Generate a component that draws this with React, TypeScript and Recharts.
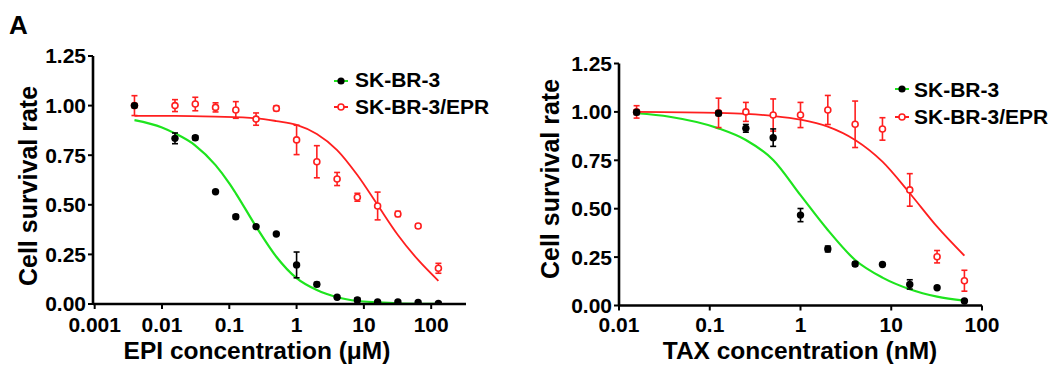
import React from 'react';
import { ComposedChart, Line, Scatter, XAxis, YAxis, ErrorBar, Legend } from 'recharts';

const FONT = 'Arial, "Liberation Sans", Helvetica, sans-serif';
const GREEN = '#1ee41e';
const RED = '#ff1f1f';

// ---- axis ticks ----
const yTicks = [0, 0.25, 0.5, 0.75, 1, 1.25];
const yTickLabels = ['0.00', '0.25', '0.50', '0.75', '1.00', '1.25'];
const epiTicks = [0.001, 0.01, 0.1, 1, 10, 100];
const epiTickLabels = ['0.001', '0.01', '0.1', '1', '10', '100'];
const taxTicks = [0.01, 0.1, 1, 10, 100];
const taxTickLabels = ['0.01', '0.1', '1', '10', '100'];

const seriesNames = ['SK-BR-3', 'SK-BR-3/EPR'];

// ---- EPI (µM) measured points ----
const epiDoses = [0.0039, 0.0156, 0.03125, 0.0625, 0.125, 0.25, 0.5, 1, 2, 4, 8, 16, 32, 64, 128];
const epiParentMean = [1.0, 0.835, 0.838, 0.566, 0.44, 0.39, 0.353, 0.197, 0.099, 0.034, 0.02, 0.01, 0.01, 0.008, 0.003];
const epiParentErr = [0.01, 0.027, 0.01, 0.0, 0.01, 0.0, 0.0, 0.065, 0.01, 0.0, 0.01, 0.0, 0.0, 0.0, 0.0];
const epiResistMean = [1.0, 1.0, 1.008, 0.991, 0.978, 0.932, 0.986, 0.827, 0.717, 0.63, 0.538, 0.494, 0.454, 0.393, 0.18];
const epiResistErr = [0.05, 0.03, 0.034, 0.023, 0.042, 0.031, 0.012, 0.074, 0.081, 0.033, 0.02, 0.07, 0.013, 0.01, 0.025];

// ---- EPI fitted curves ----
const epiParentCurveX = [0.0039, 0.01, 0.0156, 0.031, 0.0625, 0.1, 0.125, 0.25, 0.5, 1, 2, 4, 8, 16, 32, 64, 128];
const epiParentCurveY = [0.927, 0.89, 0.86, 0.8, 0.7, 0.608, 0.558, 0.39, 0.238, 0.13, 0.07, 0.034, 0.015, 0.008, 0.003, 0.001, 0.0005];
const epiResistCurveX = [0.0039, 0.0156, 0.0625, 0.25, 0.5, 1, 2, 4, 8, 16, 32, 64, 128];
const epiResistCurveY = [0.948, 0.948, 0.944, 0.936, 0.922, 0.903, 0.857, 0.776, 0.65, 0.499, 0.348, 0.222, 0.117];

// ---- TAX (nM) measured points ----
const taxDoses = [0.015625, 0.125, 0.25, 0.5, 1, 2, 4, 8, 16, 32, 64];
const taxParentMean = [0.998, 0.993, 0.915, 0.867, 0.467, 0.292, 0.214, 0.212, 0.109, 0.092, 0.023];
const taxParentErr = [0.012, 0.012, 0.02, 0.045, 0.034, 0.015, 0.01, 0.0, 0.024, 0.0, 0.0];
const taxResistMean = [1.0, 0.995, 1.0, 0.984, 0.984, 1.01, 0.936, 0.912, 0.597, 0.252, 0.128];
const taxResistErr = [0.032, 0.076, 0.049, 0.083, 0.065, 0.075, 0.12, 0.058, 0.084, 0.032, 0.054];

// ---- TAX fitted curves ----
const taxParentCurveX = [0.015625, 0.036, 0.125, 0.25, 0.5, 1, 2, 4, 8, 16, 32, 64];
const taxParentCurveY = [0.993, 0.975, 0.915, 0.855, 0.752, 0.57, 0.39, 0.235, 0.144, 0.084, 0.046, 0.025];
const taxResistCurveX = [0.015625, 0.125, 0.25, 0.5, 1, 2, 4, 8, 16, 32, 64];
const taxResistCurveY = [1.0, 0.995, 0.99, 0.979, 0.96, 0.924, 0.855, 0.743, 0.58, 0.407, 0.257];

const toPoints = (xs: number[], ys: number[], es?: number[]) =>
  xs.map((x, i) => ({ x, y: ys[i], err: es ? es[i] : 0 }));

const tickStyle = { fill: '#000', fontSize: 21, fontWeight: 700, fontFamily: FONT };

const BlackDot = (p: any) => <circle cx={p.cx} cy={p.cy} r={3.7} fill="#000" />;
const RedRing = (p: any) => (
  <circle cx={p.cx} cy={p.cy} r={3} fill="#fff" stroke={RED} strokeWidth={1.6} />
);

const LegendBox = ({ gap, rowH }: { gap: number; rowH: number }) => (
  <div style={{ fontFamily: FONT, fontWeight: 700, fontSize: 21, color: '#000' }}>
    {seriesNames.map((name, i) => (
      <div key={name} style={{ display: 'flex', alignItems: 'center', height: rowH, lineHeight: rowH + 'px' }}>
        <svg width={14} height={14} style={{ marginRight: gap, flex: 'none' }}>
          <line x1={0} y1={7} x2={14} y2={7} stroke={i === 0 ? GREEN : RED} strokeWidth={2} />
          {i === 0 ? (
            <circle cx={7} cy={7} r={3.6} fill="#000" />
          ) : (
            <circle cx={7} cy={7} r={3} fill="#fff" stroke={RED} strokeWidth={1.6} />
          )}
        </svg>
        <span style={{ whiteSpace: 'nowrap' }}>{name}</span>
      </div>
    ))}
  </div>
);

type PanelProps = {
  left: number;
  width: number;
  margin: { top: number; right: number; bottom: number; left: number };
  yAxisWidth: number;
  xAxisHeight: number;
  xDomain: [number, number];
  xTicks: number[];
  xTickLabels: string[];
  tickMargin: number;
  parent: { x: number; y: number; err: number }[];
  resist: { x: number; y: number; err: number }[];
  parentCurve: { x: number; y: number }[];
  resistCurve: { x: number; y: number }[];
  legendPos: { left: number; top: number };
  legendGap: number;
  legendRow: number;
};

const Panel = (p: PanelProps) => (
  <div style={{ position: 'absolute', left: p.left, top: 0 }}>
    <ComposedChart width={p.width} height={365} margin={p.margin}>
      <XAxis
        type="number"
        dataKey="x"
        scale="log"
        domain={p.xDomain}
        allowDataOverflow
        ticks={p.xTicks}
        tickFormatter={(v: number) => p.xTickLabels[p.xTicks.indexOf(v)] ?? String(v)}
        height={p.xAxisHeight}
        tickSize={5}
        tickMargin={p.tickMargin}
        tick={tickStyle}
        axisLine={{ stroke: '#000', strokeWidth: 2.6 }}
        tickLine={{ stroke: '#000', strokeWidth: 2 }}
        interval={0}
      />
      <YAxis
        type="number"
        dataKey="y"
        domain={[0, 1.25]}
        allowDataOverflow
        ticks={yTicks}
        tickFormatter={(v: number) => yTickLabels[yTicks.indexOf(v)] ?? String(v)}
        width={p.yAxisWidth}
        tickSize={5}
        tickMargin={2}
        tick={tickStyle}
        axisLine={{ stroke: '#000', strokeWidth: 2.6 }}
        tickLine={{ stroke: '#000', strokeWidth: 2 }}
        interval={0}
      />
      <Legend
        layout="vertical"
        align="center"
        verticalAlign="middle"
        content={() => <LegendBox gap={p.legendGap} rowH={p.legendRow} />}
        wrapperStyle={{ position: 'absolute', left: p.legendPos.left, top: p.legendPos.top, width: 'auto', height: 'auto' }}
      />
      <Line
        data={p.parentCurve}
        dataKey="y"
        type="monotone"
        stroke={GREEN}
        strokeWidth={2.2}
        dot={false}
        isAnimationActive={false}
        name={seriesNames[0] + ' fit'}
        legendType="none"
      />
      <Line
        data={p.resistCurve}
        dataKey="y"
        type="monotone"
        stroke={RED}
        strokeWidth={1.8}
        dot={false}
        isAnimationActive={false}
        name={seriesNames[1] + ' fit'}
        legendType="none"
      />
      <Scatter data={p.resist} dataKey="y" shape={RedRing} isAnimationActive={false} name={seriesNames[1]}>
        <ErrorBar dataKey="err" direction="y" width={3} stroke={RED} strokeWidth={1.6} />
      </Scatter>
      <Scatter data={p.parent} dataKey="y" shape={BlackDot} isAnimationActive={false} name={seriesNames[0]}>
        <ErrorBar dataKey="err" direction="y" width={3} stroke="#000" strokeWidth={1.6} />
      </Scatter>
    </ComposedChart>
  </div>
);

export default function App() {
  const titleStyle = { fontFamily: FONT, fontWeight: 700, fill: '#000' } as const;
  return (
    <div style={{ position: 'absolute', left: 0, top: 0, width: 1055, height: 365, background: '#fff', overflow: 'hidden' }}>
      <Panel
        left={0}
        width={520}
        margin={{ top: 56, right: 54, bottom: 0, left: 0 }}
        yAxisWidth={93}
        xAxisHeight={61}
        xDomain={[0.000944, 329]}
        xTicks={epiTicks}
        xTickLabels={epiTickLabels}
        tickMargin={8}
        parent={toPoints(epiDoses, epiParentMean, epiParentErr)}
        resist={toPoints(epiDoses, epiResistMean, epiResistErr)}
        parentCurve={toPoints(epiParentCurveX, epiParentCurveY)}
        resistCurve={toPoints(epiResistCurveX, epiResistCurveY)}
        legendPos={{ left: 334, top: 67.4 }}
        legendGap={7}
        legendRow={26.6}
      />
      <Panel
        left={520}
        width={535}
        margin={{ top: 63.5, right: 73, bottom: 0, left: 0 }}
        yAxisWidth={99}
        xAxisHeight={59.5}
        xDomain={[0.01, 100]}
        xTicks={taxTicks}
        xTickLabels={taxTickLabels}
        tickMargin={7}
        parent={toPoints(taxDoses, taxParentMean, taxParentErr)}
        resist={toPoints(taxDoses, taxResistMean, taxResistErr)}
        parentCurve={toPoints(taxParentCurveX, taxParentCurveY)}
        resistCurve={toPoints(taxResistCurveX, taxResistCurveY)}
        legendPos={{ left: 375, top: 75.6 }}
        legendGap={5}
        legendRow={27.4}
      />
      <svg width={1055} height={365} style={{ position: 'absolute', left: 0, top: 0, pointerEvents: 'none' }}>
        <text x={9} y={34} fontSize={26} {...titleStyle}>A</text>
        <text x={257} y={359} fontSize={24.5} textAnchor="middle" {...titleStyle}>EPI concentration (μM)</text>
        <text x={800} y={359} fontSize={24.5} textAnchor="middle" {...titleStyle}>TAX concentration (nM)</text>
        <text x={0} y={0} fontSize={25} textAnchor="middle" dominantBaseline="central" transform="translate(28,186) rotate(-90)" {...titleStyle}>Cell survival rate</text>
        <text x={0} y={0} fontSize={25} textAnchor="middle" dominantBaseline="central" transform="translate(550,179) rotate(-90)" {...titleStyle}>Cell survival rate</text>
      </svg>
    </div>
  );
}
